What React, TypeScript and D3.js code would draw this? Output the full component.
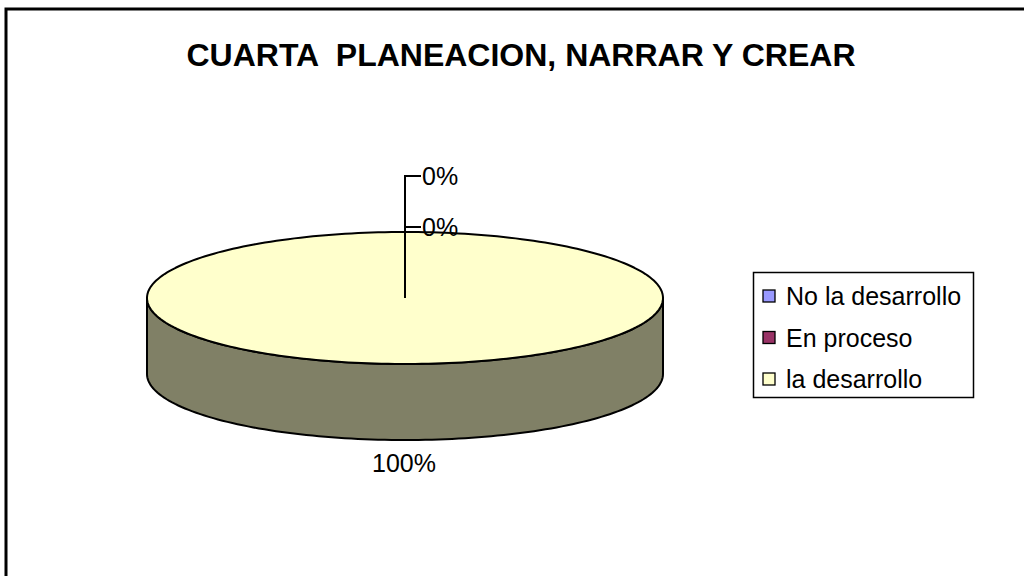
import React from "react";
import * as d3 from "d3";

const title = "CUARTA  PLANEACION, NARRAR Y CREAR";
const categories = ["No la desarrollo", "En proceso", "la desarrollo"];
const values = [0, 0, 100];
const topColors = ["#9999FF", "#993366", "#FFFFCC"];
const sideColors = ["#4D4D80", "#4D1A33", "#808066"];

const W = 1024;
const H = 576;
const cx = 405;
const cy = 298;
const rx = 258;
const ry = 66;
const depth = 76;

function pt(a: number, dy = 0): [number, number] {
  return [cx + rx * Math.sin(a), cy - ry * Math.cos(a) + dy];
}

function topPath(a0: number, a1: number): string {
  const n = Math.max(4, Math.ceil(((a1 - a0) / (2 * Math.PI)) * 240));
  const pts: [number, number][] = [];
  for (let i = 0; i <= n; i++) pts.push(pt(a0 + ((a1 - a0) * i) / n));
  const full = a1 - a0 >= 2 * Math.PI - 1e-6;
  let d = "";
  if (!full) d += `M${cx},${cy}L`;
  else d += "M";
  d += pts.map((p) => `${p[0]},${p[1]}`).join("L");
  d += "Z";
  return d;
}

function sidePath(a0: number, a1: number): string | null {
  const s = Math.max(a0, Math.PI / 2);
  const e = Math.min(a1, (3 * Math.PI) / 2);
  if (e <= s) return null;
  const n = Math.max(4, Math.ceil(((e - s) / Math.PI) * 120));
  const upper: [number, number][] = [];
  const lower: [number, number][] = [];
  for (let i = 0; i <= n; i++) {
    const a = s + ((e - s) * i) / n;
    upper.push(pt(a));
    lower.push(pt(a, depth));
  }
  lower.reverse();
  return (
    "M" +
    upper.map((p) => `${p[0]},${p[1]}`).join("L") +
    "L" +
    lower.map((p) => `${p[0]},${p[1]}`).join("L") +
    "Z"
  );
}

const labelYs = [176, 227];

export default function App() {
  const arcs = d3
    .pie<number>()
    .sort(null)
    .startAngle(0)
    .endAngle(2 * Math.PI)(values);
  const fmt = d3.format(".0%");
  const total = d3.sum(values);

  return (
    <svg
      width={W}
      height={H}
      style={{ position: "absolute", left: 0, top: 0, background: "#fff" }}
      fontFamily="'Liberation Sans', Arial, sans-serif"
    >
      <rect x={0} y={0} width={W} height={H} fill="#fff" />
      <rect x={6} y={9} width={1200} height={1000} fill="none" stroke="#000" strokeWidth={3} />
      <text
        x={521}
        y={66}
        textAnchor="middle"
        fontSize={32}
        fontWeight="bold"
        fill="#000"
        style={{ whiteSpace: "pre" }}
      >
        {title}
      </text>

      {arcs.map((a, i) => {
        const d = sidePath(a.startAngle, a.endAngle);
        return d ? (
          <path key={"s" + i} d={d} fill={sideColors[i]} stroke="#000" strokeWidth={2} strokeLinejoin="round" />
        ) : null;
      })}
      {arcs.map((a, i) =>
        a.endAngle - a.startAngle > 1e-9 ? (
          <path
            key={"t" + i}
            d={topPath(a.startAngle, a.endAngle)}
            fill={topColors[i]}
            stroke="#000"
            strokeWidth={2}
            strokeLinejoin="round"
          />
        ) : null
      )}

      {arcs.map((a, i) => {
        const pct = fmt(values[i] / total);
        if (values[i] === 0) {
          const ly = labelYs[i] ?? 176;
          return (
            <g key={"l" + i}>
              <path
                d={`M${cx},${cy}L${cx},${ly}L${cx + 16},${ly}`}
                fill="none"
                stroke="#000"
                strokeWidth={2}
              />
              <text x={cx + 17} y={ly + 2} dominantBaseline="middle" fontSize={25} fill="#000">
                {pct}
              </text>
            </g>
          );
        }
        const mid = (a.startAngle + a.endAngle) / 2;
        const p = pt(mid, depth);
        return (
          <text key={"l" + i} x={p[0] - 1} y={p[1] + 32} textAnchor="middle" fontSize={25} fill="#000">
            {pct}
          </text>
        );
      })}

      <rect x={753.5} y={272.5} width={220} height={125} fill="#fff" stroke="#000" strokeWidth={1.5} />
      {categories.map((c, i) => {
        const yc = 296 + i * 41.5;
        return (
          <g key={c}>
            <rect x={763} y={yc - 6} width={12} height={12} fill={topColors[i]} stroke="#000" strokeWidth={1.3} />
            <text x={786} y={yc + 9} fontSize={25} fill="#000">
              {c}
            </text>
          </g>
        );
      })}
    </svg>
  );
}
